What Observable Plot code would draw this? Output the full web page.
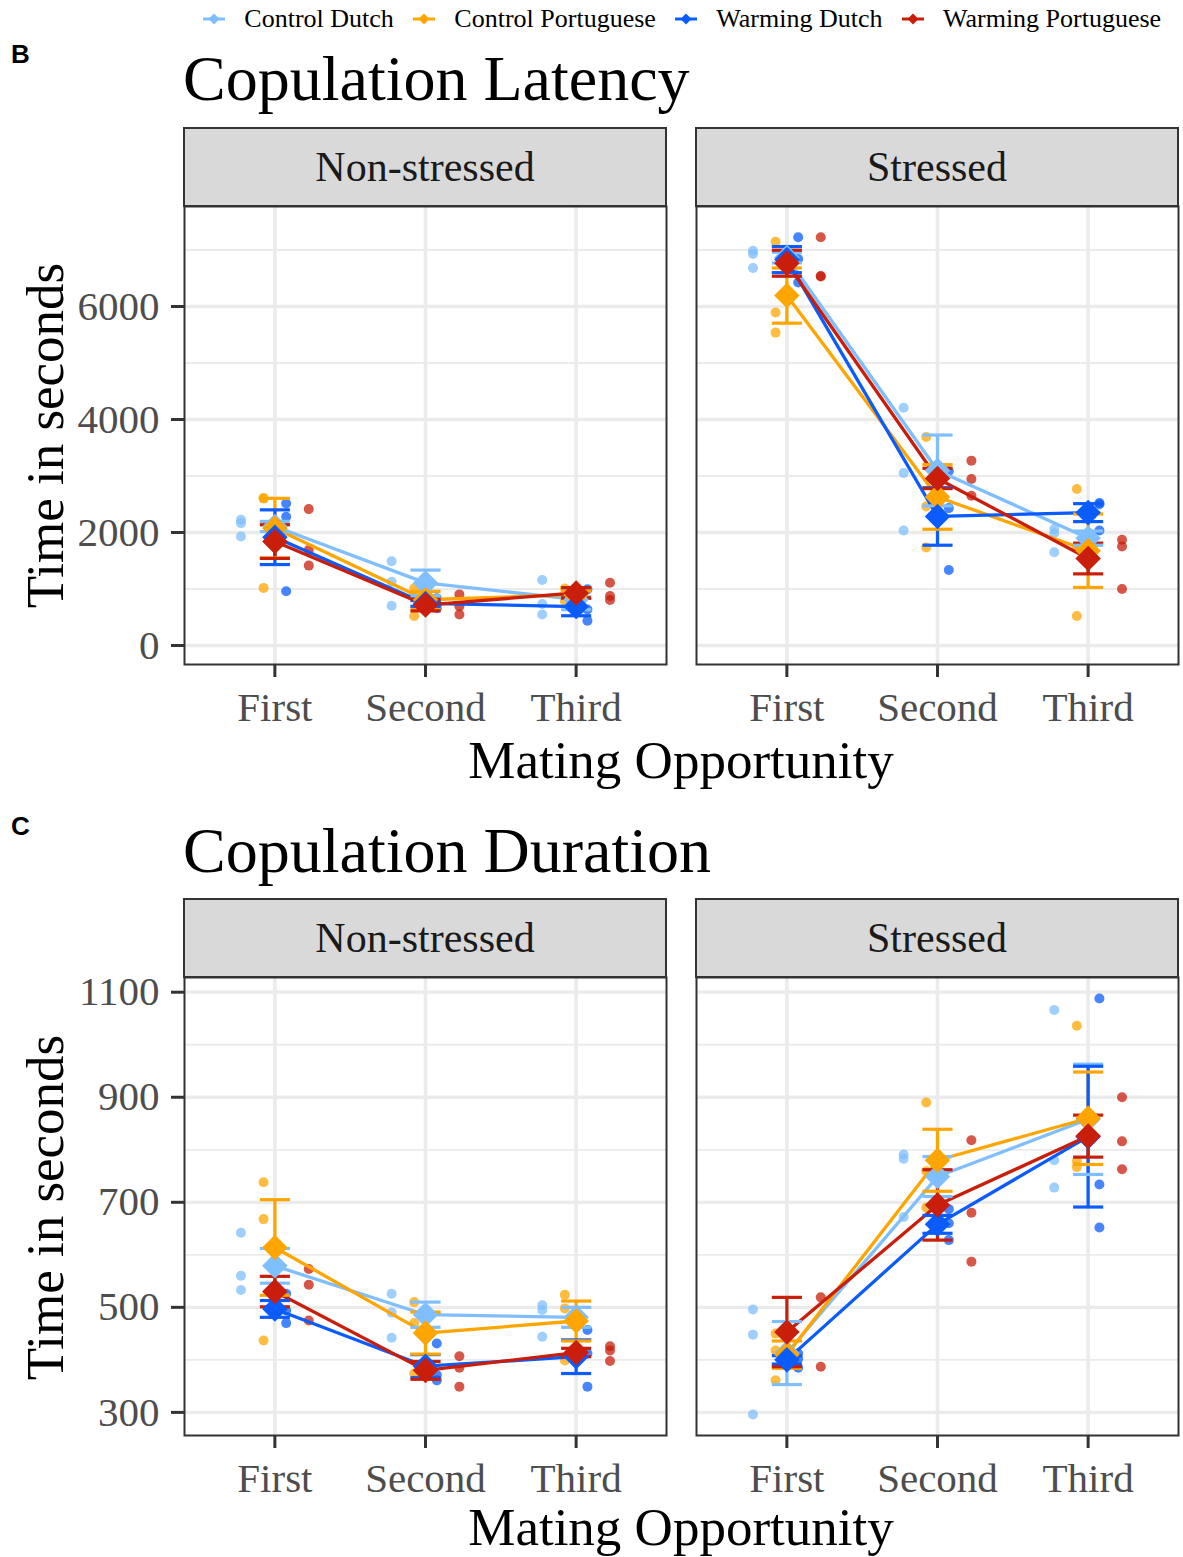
<!DOCTYPE html>
<html>
<head>
<meta charset="utf-8">
<script src="https://cdn.jsdelivr.net/npm/d3@7"></script>
<script src="https://cdn.jsdelivr.net/npm/@observablehq/plot@0.6"></script>
<style>
  body { margin: 0; background: #fff; }
  #root { position: relative; width: 1183px; height: 1557px; overflow: hidden;
          font-family: "Liberation Serif", "Times New Roman", serif; color: #000; }
  .abs { position: absolute; white-space: nowrap; }
  .tag { font-family: "Liberation Sans", Arial, sans-serif; font-weight: bold; font-size: 26px; line-height: 26px; }
  .title { font-size: 64px; line-height: 64px; }
  .xtitle { font-size: 53px; line-height: 53px; text-align: center; }
  .ytitle { font-size: 53px; line-height: 53px; width: 600px; text-align: center; }
  .legend { display: flex; justify-content: center; align-items: center; font-size: 26px; line-height: 26px; }
  .legend .item { display: flex; align-items: center; margin: 0 8.5px; }
  .legend svg { margin-right: 17.5px; }
</style>
</head>
<body>
<div id="root"></div>
<script>
// ---- categories ----
const opportunities = ["First", "Second", "Third"];
const conditions = ["Non-stressed", "Stressed"];
const groups = ["Control Dutch", "Control Portuguese", "Warming Dutch", "Warming Portuguese"];
const groupColors = ["#7fbfff", "#ffa500", "#0a5cff", "#c81e0a"];

// ---- Copulation latency (seconds) ----
// rows: groups; columns: First, Second, Third mating opportunity
const latencyObsNonStressed = [
  [[2225, 2166, 1929], [1491, 1130, 704], [1160, 734, 550]],
  [[2610, 2600, 1020], [1012, 897, 521], [1010, 900, 790]],
  [[2515, 2278, 959], [835, 740, 660], [994, 639, 438]],
  [[2414, 1692, 1414], [905, 693, 550], [1112, 876, 805]]
];
const latencyObsStressed = [
  [[6988, 6929, 6680], [4207, 3053, 2035], [2061, 1988, 1651]],
  [[7148, 5893, 5538], [3692, 2462, 1734], [2769, 1744, 521]],
  [[7225, 6840, 6426], [3083, 2432, 1337], [2521, 2500, 2035]],
  [[7225, 6541, 6532], [3272, 2947, 2651], [1870, 1751, 1000]]
];
const latencyMeanNonStressed = [[2107, 1108, 815], [2077, 810, 900], [1917, 745, 690], [1840, 716, 931]];
const latencySeNonStressed   = [[90, 227, 181], [528, 148, 64], [484, 51, 163], [298, 103, 93]];
const latencyMeanStressed    = [[6866, 3098, 1900], [6193, 2629, 1678], [6830, 2284, 2352], [6766, 2957, 1540]];
const latencySeStressed      = [[94, 627, 126], [488, 571, 650], [231, 509, 159], [230, 179, 272]];
const latencyDomain = [-336, 7770];
const latencyTicks = [0, 2000, 4000, 6000];
const latencyMinorTicks = [1000, 3000, 5000, 7000];

// ---- Copulation duration (seconds) ----
const durationObsNonStressed = [
  [[642, 560, 533], [526, 490, 442], [504, 495, 444]],
  [[738, 668, 437], [510, 470, 374], [524, 498, 399]],
  [[526, 494, 470], [431, 371, 361], [457, 412, 349]],
  [[573, 543, 475], [407, 385, 349], [426, 418, 398]]
];
const durationObsStressed = [
  [[496, 448, 296], [791, 783, 672], [1066, 780, 728]],
  [[450, 418, 361], [890, 759, 690], [1036, 778, 767]],
  [[412, 402, 385], [687, 660, 628], [1088, 734, 652]],
  [[519, 387], [818, 680, 587], [900, 816, 763]]
];
const durationMeanNonStressed = [[579, 486, 481], [614, 451, 474], [497, 388, 406], [530, 380, 414]];
const durationSeNonStressed   = [[33, 24, 19], [91, 40, 38], [16, 22, 32], [29, 17, 8]];
const durationMeanStressed    = [[413, 749, 858], [410, 780, 860], [400, 658, 825], [453, 695, 826]];
const durationSeStressed      = [[60, 38, 105], [26, 59, 88], [8, 17, 134], [66, 67, 40]];
const durationDomain = [256, 1128];
const durationTicks = [300, 500, 700, 900, 1100];
const durationMinorTicks = [400, 600, 800, 1000];

// ---- layout helpers ----
const root = document.getElementById("root");
function addText(cls, text, css) {
  const el = document.createElement("div");
  el.className = "abs " + cls;
  el.textContent = text;
  Object.assign(el.style, css);
  root.appendChild(el);
  return el;
}

// legend row
const legend = document.createElement("div");
legend.className = "abs legend";
Object.assign(legend.style, {left: "184px", width: "994px", top: "6px", height: "26px"});
groups.forEach((g, i) => {
  const item = document.createElement("div");
  item.className = "item";
  item.innerHTML =
    `<svg width="26" height="26" viewBox="0 0 26 26">` +
    `<line x1="2" y1="13" x2="24" y2="13" stroke="${groupColors[i]}" stroke-width="3"/>` +
    `<polygon points="13,7.5 18.5,13 13,18.5 7.5,13" fill="${groupColors[i]}"/></svg>`;
  const label = document.createElement("span");
  label.textContent = g;
  item.appendChild(label);
  legend.appendChild(item);
});
root.appendChild(legend);

// dodge spacing between groups (x units) and error bar cap half-width
const dodgeStep = 0.15;
const capHalf = 0.1;

function rowsFrom(obsList, meanList, seList) {
  const obs = [], means = [];
  conditions.forEach((cond, ci) => {
    groups.forEach((group, gi) => {
      opportunities.forEach((opp, oi) => {
        obsList[ci][gi][oi].forEach(v => obs.push({cond, group, gi, oi, value: v}));
        means.push({cond, group, gi, oi, mean: meanList[ci][gi][oi], se: seList[ci][gi][oi]});
      });
    });
  });
  return {obs, means};
}

function section({top, height, obsList, meanList, seList, domain, ticks, minorTicks}) {
  const {obs, means} = rowsFrom(obsList, meanList, seList);
  const xc = d => d.oi + 1;
  const chart = Plot.plot({
    width: 1183, height,
    marginTop: 80, marginBottom: height - 538, marginLeft: 184, marginRight: 5,
    style: {fontFamily: '"Liberation Serif", "Times New Roman", serif', background: "transparent", overflow: "visible"},
    fx: {domain: conditions, paddingInner: 30 / 512, paddingOuter: 0, axis: null, label: null},
    x: {domain: [0.4, 3.6], axis: null},
    y: {domain, axis: null},
    color: {domain: groups, range: groupColors},
    marks: [
      Plot.gridY({ticks: minorTicks, stroke: "#ebebeb", strokeOpacity: 1, strokeWidth: 1.8}),
      Plot.gridY({ticks, stroke: "#ebebeb", strokeOpacity: 1, strokeWidth: 3.3}),
      Plot.gridX({ticks: [1, 2, 3], stroke: "#ebebeb", strokeOpacity: 1, strokeWidth: 3.6}),
      Plot.dot(obs, {fx: "cond", x: d => d.oi + 1 + (d.gi - 1.5) * dodgeStep, y: "value",
                     r: 5, fill: "group", fillOpacity: 0.75, stroke: "none"}),
      Plot.line(means, {fx: "cond", x: xc, y: "mean", z: "group", stroke: "group", strokeWidth: 3.3}),
      Plot.ruleX(means, {fx: "cond", x: xc, y1: d => d.mean - d.se, y2: d => d.mean + d.se,
                         stroke: "group", strokeWidth: 3.2}),
      Plot.link(means, {fx: "cond", x1: d => xc(d) - capHalf, x2: d => xc(d) + capHalf,
                        y1: d => d.mean + d.se, y2: d => d.mean + d.se, stroke: "group", strokeWidth: 3.2}),
      Plot.link(means, {fx: "cond", x1: d => xc(d) - capHalf, x2: d => xc(d) + capHalf,
                        y1: d => d.mean - d.se, y2: d => d.mean - d.se, stroke: "group", strokeWidth: 3.2}),
      Plot.dot(means, {fx: "cond", x: xc, y: "mean", symbol: "diamond2", r: 11.5, fill: "group", stroke: "none"}),
      Plot.frame({stroke: "#333", strokeWidth: 2}),
      Plot.axisY({ticks, tickFormat: "d", tickSize: 13, tickPadding: 12, fontSize: 41,
                  stroke: "#333", strokeWidth: 3, fill: "#4d4d4d", label: null}),
      Plot.axisX({ticks: [1, 2, 3], tickFormat: i => opportunities[i - 1], tickSize: 13, tickPadding: 14,
                  fontSize: 41, stroke: "#333", strokeWidth: 3, fill: "#4d4d4d", label: null})
    ]
  });
  Object.assign(chart.style, {position: "absolute", left: "0px", top: top + "px"});

  // facet strips with their labels
  const fx = chart.scale("fx");
  const bw = fx.bandwidth;
  const pos = c => fx.apply ? fx.apply(c)
    : fx.range[0] + fx.step * (fx.paddingOuter || 0) + conditions.indexOf(c) * fx.step;
  const g = d3.select(chart).append("g").attr("aria-label", "facet strips");
  conditions.forEach(c => {
    const x0 = pos(c);
    g.append("rect").attr("x", x0).attr("y", 2).attr("width", bw).attr("height", 78)
      .attr("fill", "#d9d9d9").attr("stroke", "#333").attr("stroke-width", 2);
    g.append("text").attr("x", x0 + bw / 2).attr("y", 55).attr("text-anchor", "middle")
      .attr("font-size", 42).attr("fill", "#1a1a1a").text(c);
  });
  root.appendChild(chart);
}

// ---- panel B: latency ----
addText("tag", "B", {left: "11px", top: "41px"});
addText("title", "Copulation Latency", {left: "183px", top: "47px"});
section({top: 126, height: 610, obsList: [latencyObsNonStressed, latencyObsStressed],
         meanList: [latencyMeanNonStressed, latencyMeanStressed],
         seList: [latencySeNonStressed, latencySeStressed],
         domain: latencyDomain, ticks: latencyTicks, minorTicks: latencyMinorTicks});
addText("xtitle", "Mating Opportunity", {left: "184px", width: "994px", top: "734px"});
addText("ytitle", "Time in seconds", {left: (45 - 300) + "px", top: (435 - 26.5) + "px", transform: "rotate(-90deg)"});

// ---- panel C: duration ----
addText("tag", "C", {left: "11px", top: "813px"});
addText("title", "Copulation Duration", {left: "183px", top: "819px"});
section({top: 897, height: 611, obsList: [durationObsNonStressed, durationObsStressed],
         meanList: [durationMeanNonStressed, durationMeanStressed],
         seList: [durationSeNonStressed, durationSeStressed],
         domain: durationDomain, ticks: durationTicks, minorTicks: durationMinorTicks});
addText("xtitle", "Mating Opportunity", {left: "184px", width: "994px", top: "1501px"});
addText("ytitle", "Time in seconds", {left: (45 - 300) + "px", top: (1207 - 26.5) + "px", transform: "rotate(-90deg)"});
</script>
</body>
</html>
